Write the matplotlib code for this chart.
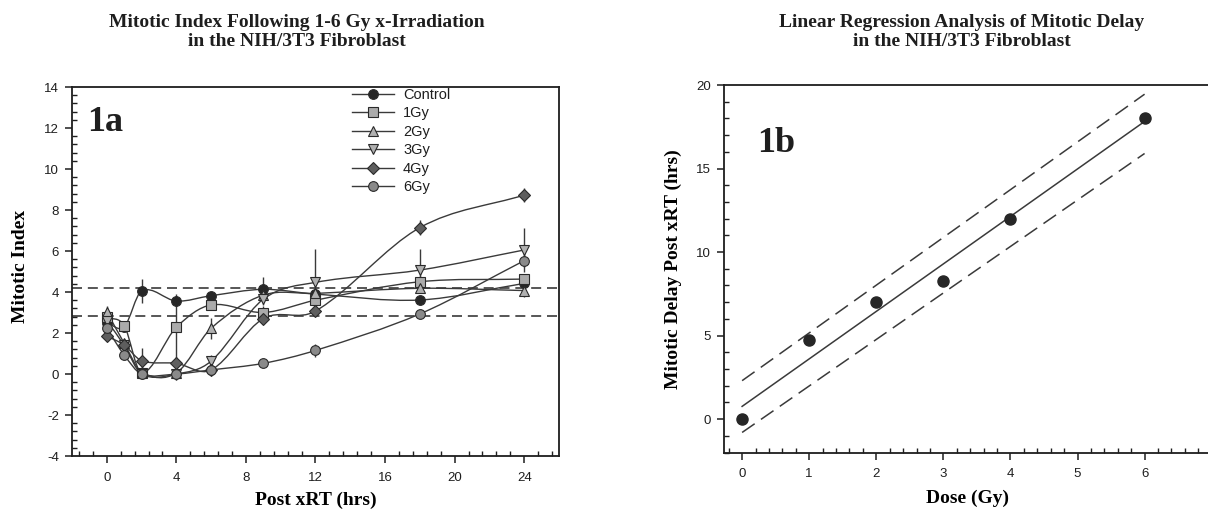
import numpy as np
import matplotlib
matplotlib.use("Agg")
import matplotlib.pyplot as plt
from matplotlib.path import Path
from matplotlib.patches import PathPatch
from matplotlib.lines import Line2D
from matplotlib.ticker import MultipleLocator, AutoMinorLocator

# ---- panel 1a: mitotic index vs time after irradiation ----
hours = [0, 1, 2, 4, 6, 9, 12, 18, 24]
control = [2.5, 2.3, 4.05, 3.56, 3.82, 4.13, 3.9, 3.61, 4.42]
gy1 = [2.76, 2.36, 0.05, 2.28, 3.37, 3.0, 3.6, 4.5, 4.63]
gy2 = [3.04, 1.5, 0.1, 0.05, 2.23, 3.85, 3.93, 4.18, 4.07]
gy3 = [2.6, 1.4, 0.0, 0.0, 0.63, 3.65, 4.47, 5.07, 6.05]
gy4 = [1.85, 1.41, 0.65, 0.52, 0.2, 2.7, 3.07, 7.14, 8.73]
gy6 = [2.23, 0.93, 0.0, 0.0, 0.2, 0.52, 1.15, 2.93, 5.53]

err_control = [0.15, 0.1, 0.6, 0.25, 0.2, 0.62, 0.1, 0.1, 0.2]
err_gy1 = [0.2, 0.2, 0.1, 1.6, 0.2, 0.3, 0.3, 0.3, 0.2]
err_gy2 = [0.3, 0.1, 0.1, 0.1, 0.5, 0.3, 0.2, 0.2, 0.3]
err_gy3 = [0.2, 0.1, 0.1, 0.3, 0.3, 0.3, 1.63, 1.03, 1.05]
err_gy4 = [0.2, 0.2, 0.6, 0.3, 0.1, 0.2, 0.2, 0.35, 0.35]
err_gy6 = [0.2, 0.2, 0.1, 0.3, 0.1, 0.1, 0.3, 0.1, 0.3]

ref_levels = [4.2, 2.84]
series_names = ["Control", "1Gy", "2Gy", "3Gy", "4Gy", "6Gy"]

# ---- panel 1b: mitotic delay vs dose ----
dose = [0, 1, 2, 3, 4, 6]
delay = [0.0, 4.75, 7.0, 8.25, 12.0, 18.05]
band_x = [0, 6]
band_upper = [2.3, 19.45]
band_lower = [-0.8, 15.9]

SERIF = "Liberation Serif"
SANS = "Liberation Sans"
INK = "#1e1e1e"
LINE = "#3a3a3a"

plt.rcParams["font.family"] = SANS
plt.rcParams["text.color"] = INK
plt.rcParams["axes.unicode_minus"] = False


def smooth_path(x, y):
    # spline-like bezier through the points (like the original plotting package)
    x = np.asarray(x, float)
    y = np.asarray(y, float)
    m = np.empty(len(x))
    m[0] = (y[1] - y[0]) / (x[1] - x[0])
    m[-1] = (y[-1] - y[-2]) / (x[-1] - x[-2])
    m[1:-1] = (y[2:] - y[:-2]) / (x[2:] - x[:-2])
    verts = [(x[0], y[0])]
    codes = [Path.MOVETO]
    for i in range(len(x) - 1):
        h = x[i + 1] - x[i]
        verts += [(x[i] + h / 3, y[i] + m[i] * h / 3),
                  (x[i + 1] - h / 3, y[i + 1] - m[i + 1] * h / 3),
                  (x[i + 1], y[i + 1])]
        codes += [Path.CURVE4] * 3
    return Path(verts, codes)


def style_axes(ax):
    for s in ax.spines.values():
        s.set_color(INK)
        s.set_linewidth(1.3)
    ax.tick_params(which="major", direction="out", length=5, width=1.1,
                   color=INK, labelsize=9.5, labelcolor=INK)
    ax.tick_params(which="minor", direction="in", length=3.5, width=1.0, color=INK)
    ax.tick_params(axis="x", which="major", pad=6.5)
    ax.tick_params(axis="y", which="major", pad=4.5)


W, H = 1208, 511
fig = plt.figure(figsize=(W / 100, H / 100), dpi=100)

# ---------------- left panel ----------------
ax1 = fig.add_axes([72 / W, (H - 456) / H, 487 / W, 369 / H])
style_axes(ax1)
ax1.set_xlim(-2, 26)
ax1.set_ylim(-4, 14)
ax1.xaxis.set_major_locator(MultipleLocator(4))
ax1.xaxis.set_minor_locator(AutoMinorLocator(5))
ax1.yaxis.set_major_locator(MultipleLocator(2))
ax1.yaxis.set_minor_locator(AutoMinorLocator(5))

for lvl in ref_levels:
    ax1.axhline(lvl, color=LINE, lw=1.2, ls=(0, (6, 3.5)), zorder=1)

series = [control, gy1, gy2, gy3, gy4, gy6]
errors = [err_control, err_gy1, err_gy2, err_gy3, err_gy4, err_gy6]
markers = ["o", "s", "^", "v", "D", "o"]
fills = ["#262626", "#ababab", "#b0b0b0", "#b0b0b0", "#5e5e5e", "#8a8a8a"]
sizes = [7, 6.5, 7, 7, 6, 7]

handles = []
for vals, errs, mk, fc, ms, name in zip(series, errors, markers, fills, sizes, series_names):
    ax1.add_patch(PathPatch(smooth_path(hours, vals), fill=False,
                            edgecolor=LINE, lw=1.0, zorder=2))
    ax1.errorbar(hours, vals, yerr=errs, fmt=mk, ms=ms, mfc=fc, mec="#2a2a2a",
                 mew=0.8, ecolor=LINE, elinewidth=1.0, capsize=0, zorder=3)
    handles.append(Line2D([], [], color=LINE, lw=1.0, marker=mk, ms=ms,
                          mfc=fc, mec="#2a2a2a", mew=0.8, label=name))

ax1.legend(handles=handles, loc="upper left", bbox_to_anchor=(0.575, 0.997),
           frameon=False, fontsize=10.5, handlelength=2.9, handletextpad=0.6,
           labelspacing=0.3, borderpad=0, borderaxespad=0)

ax1.text(0.031, 0.881, "1a", transform=ax1.transAxes, family=SERIF,
         weight="bold", fontsize=26, ha="left", va="baseline")
ax1.set_xlabel("Post xRT (hrs)", family=SERIF, weight="bold", fontsize=14)
ax1.xaxis.set_label_coords(0.5, -0.119)
ax1.xaxis.label.set_va("center")
ax1.set_ylabel("Mitotic Index", family=SERIF, weight="bold", fontsize=14)
ax1.yaxis.set_label_coords(-0.105, 0.515)
ax1.yaxis.label.set_va("center")

fig.text(297 / W, 1 - 32 / H,
         "Mitotic Index Following 1-6 Gy x-Irradiation\nin the NIH/3T3 Fibroblast",
         family=SERIF, weight="bold", fontsize=14, ha="center", va="center",
         linespacing=1.2)

# ---------------- right panel ----------------
ax2 = fig.add_axes([724 / W, (H - 452.5) / H, 487 / W, 367.5 / H])
style_axes(ax2)
ax2.set_xlim(-0.27, 6.99)
ax2.set_ylim(-2, 20)
ax2.xaxis.set_major_locator(MultipleLocator(1))
ax2.xaxis.set_minor_locator(AutoMinorLocator(5))
ax2.yaxis.set_major_locator(MultipleLocator(5))
ax2.yaxis.set_minor_locator(AutoMinorLocator(5))
ax2.spines["right"].set_visible(False)

slope, intercept = np.polyfit(dose, delay, 1)
fit_x = np.array(band_x, float)
ax2.plot(fit_x, slope * fit_x + intercept, color=LINE, lw=1.1, zorder=2)
ax2.plot(band_x, band_upper, color=LINE, lw=1.1, ls=(0, (10, 5)), zorder=2)
ax2.plot(band_x, band_lower, color=LINE, lw=1.1, ls=(0, (10, 5)), zorder=2)
ax2.plot(dose, delay, "o", ms=8, mfc="#262626", mec="#262626", zorder=3)

ax2.text(0.068, 0.818, "1b", transform=ax2.transAxes, family=SERIF,
         weight="bold", fontsize=26, ha="left", va="baseline")
ax2.set_xlabel("Dose (Gy)", family=SERIF, weight="bold", fontsize=14)
ax2.xaxis.set_label_coords((968 - 724) / 487, -0.124)
ax2.xaxis.label.set_va("center")
ax2.set_ylabel("Mitotic Delay Post xRT (hrs)", family=SERIF, weight="bold", fontsize=14)
ax2.yaxis.set_label_coords(-0.103, 0.499)
ax2.yaxis.label.set_va("center")

fig.text(962 / W, 1 - 32 / H,
         "Linear Regression Analysis of Mitotic Delay\nin the NIH/3T3 Fibroblast",
         family=SERIF, weight="bold", fontsize=14, ha="center", va="center",
         linespacing=1.2)

fig.savefig("out.png", dpi=100)
